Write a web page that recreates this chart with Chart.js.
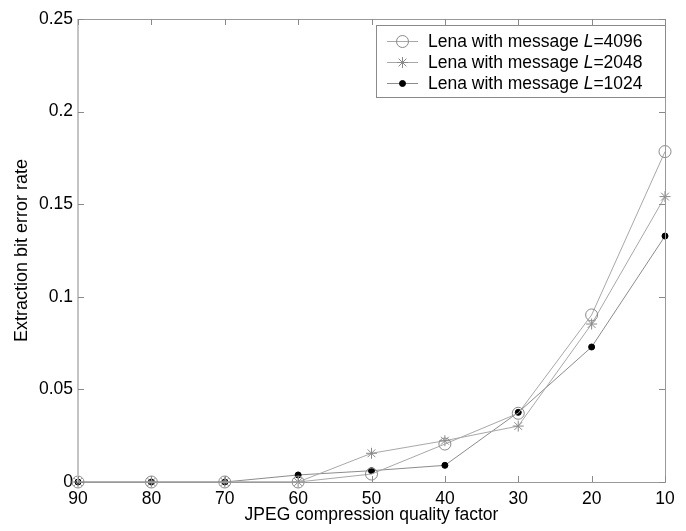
<!DOCTYPE html>
<html>
<head>
<meta charset="utf-8">
<script src="https://cdn.jsdelivr.net/npm/chart.js@4.4.1/dist/chart.umd.min.js"></script>
<style>
  html, body { margin: 0; padding: 0; background: #fff; }
  #wrap { width: 686px; height: 531px; }
</style>
</head>
<body>
<div id="wrap"><canvas id="c" width="686" height="531"></canvas></div>
<script>
// ---- data ----
const qualityFactors = [90, 80, 70, 60, 50, 40, 30, 20, 10];
const ber4096 = [0, 0, 0, 0, 0.0043, 0.0205, 0.0371, 0.0902, 0.1784];
const ber2048 = [0, 0, 0, 0, 0.0155, 0.0223, 0.0302, 0.0853, 0.1541];
const ber1024 = [0, 0, 0, 0.0038, 0.0061, 0.0090, 0.0376, 0.0729, 0.1328];
const messageLengths = [4096, 2048, 1024];
const xTicks = [90, 80, 70, 60, 50, 40, 30, 20, 10];
const yTicks = [0, 0.05, 0.1, 0.15, 0.2, 0.25];

const FONT = "'Liberation Sans', Arial, sans-serif";
const FS = 17.5;

function pts(ys) { return qualityFactors.map((q, i) => ({ x: q, y: ys[i] })); }

const datasets = [
  { data: pts(ber4096), msgLen: messageLengths[0], borderColor: '#a8a8a8', borderWidth: 1,
    pointStyle: 'circle', pointRadius: 6, pointBorderColor: '#8a8a8a', pointBackgroundColor: 'rgba(0,0,0,0)', pointBorderWidth: 1 },
  { data: pts(ber2048), msgLen: messageLengths[1], borderColor: '#a8a8a8', borderWidth: 1,
    pointStyle: 'star', pointRadius: 5.5, pointBorderColor: '#8a8a8a', pointBackgroundColor: 'rgba(0,0,0,0)', pointBorderWidth: 1 },
  { data: pts(ber1024), msgLen: messageLengths[2], borderColor: '#8c8c8c', borderWidth: 1,
    pointStyle: 'circle', pointRadius: 3, pointBorderColor: '#000', pointBackgroundColor: '#000', pointBorderWidth: 1 }
];

const frame = {
  id: 'frame',
  beforeDraw(chart) {
    const { ctx } = chart;
    ctx.save();
    ctx.fillStyle = '#fff';
    ctx.fillRect(0, 0, chart.width, chart.height);
    ctx.restore();
  },
  afterDatasetsDraw(chart) {
    const { ctx, chartArea: a, scales } = chart;
    ctx.save();
    ctx.strokeStyle = '#9a9a9a';
    ctx.lineWidth = 1;
    ctx.strokeRect(a.left + 0.5, a.top + 0.5, a.right - a.left, a.bottom - a.top);
    ctx.strokeStyle = '#c4c4c4';
    ctx.lineWidth = 2;
    ctx.beginPath(); ctx.moveTo(a.left, a.top); ctx.lineTo(a.left, a.bottom); ctx.stroke();
    // inward ticks
    ctx.strokeStyle = '#8a8a8a';
    ctx.lineWidth = 1;
    const L = 6;
    scales.x.ticks.forEach(t => {
      const x = Math.round(scales.x.getPixelForValue(t.value)) + 0.5;
      ctx.beginPath();
      ctx.moveTo(x, a.bottom); ctx.lineTo(x, a.bottom - L);
      ctx.moveTo(x, a.top); ctx.lineTo(x, a.top + L);
      ctx.stroke();
    });
    scales.y.ticks.forEach(t => {
      const y = Math.round(scales.y.getPixelForValue(t.value)) + 0.5;
      ctx.beginPath();
      ctx.moveTo(a.left, y); ctx.lineTo(a.left + L, y);
      ctx.moveTo(a.right, y); ctx.lineTo(a.right - L, y);
      ctx.stroke();
    });
    ctx.restore();
  },
  afterDraw(chart) {
    const { ctx } = chart;
    const box = { x: 376, y: 25, w: 289, h: 72 };
    ctx.save();
    ctx.fillStyle = '#fff';
    ctx.fillRect(box.x, box.y, box.w, box.h);
    ctx.strokeStyle = '#8a8a8a';
    ctx.lineWidth = 1;
    ctx.strokeRect(box.x + 0.5, box.y + 0.5, box.w, box.h);
    const rows = [41, 62, 83];
    chart.data.datasets.forEach((ds, i) => {
      const y = rows[i];
      ctx.strokeStyle = ds.borderColor;
      ctx.lineWidth = 1;
      ctx.beginPath(); ctx.moveTo(387, y + 0.5); ctx.lineTo(418, y + 0.5); ctx.stroke();
      ctx.fillStyle = ds.pointBackgroundColor;
      ctx.strokeStyle = ds.pointBorderColor;
      ctx.beginPath();
      if (ds.pointStyle === 'circle') {
        ctx.arc(402.5, y + 0.5, ds.pointRadius, 0, Math.PI * 2);
        ctx.fill(); ctx.stroke();
      } else {
        const r = ds.pointRadius;
        for (let k = 0; k < 4; k++) {
          const ang = k * Math.PI / 4;
          ctx.moveTo(402.5 - r * Math.cos(ang), y + 0.5 - r * Math.sin(ang));
          ctx.lineTo(402.5 + r * Math.cos(ang), y + 0.5 + r * Math.sin(ang));
        }
        ctx.stroke();
      }
      ctx.fillStyle = '#000';
      ctx.textBaseline = 'middle';
      ctx.textAlign = 'left';
      let x = 428;
      const p1 = 'Lena with message ';
      ctx.font = FS + 'px ' + FONT;
      ctx.fillText(p1, x, y + 1); x += ctx.measureText(p1).width;
      ctx.font = 'italic ' + FS + 'px ' + FONT;
      ctx.fillText('L', x, y + 1); x += ctx.measureText('L').width;
      ctx.font = FS + 'px ' + FONT;
      ctx.fillText('=' + ds.msgLen, x, y + 1);
    });
    ctx.restore();
  }
};

new Chart(document.getElementById('c'), {
  type: 'line',
  data: { datasets },
  options: {
    responsive: false,
    animation: false,
    devicePixelRatio: 1,
    layout: { padding: { top: 19, right: 21, left: 0, bottom: 0 } },
    elements: { line: { tension: 0 } },
    datasets: { line: { clip: false } },
    plugins: { legend: { display: false }, tooltip: { enabled: false } },
    scales: {
      x: {
        type: 'linear', reverse: true, min: 10, max: 90,
        afterBuildTicks: s => { s.ticks = xTicks.map(v => ({ value: v })); },
        afterFit: s => { s.height = 49; },
        grid: { display: false, drawTicks: false },
        border: { display: false },
        ticks: { padding: 7, color: '#000', font: { family: FONT, size: FS }, maxRotation: 0, autoSkip: false,
                 callback: v => String(v) },
        title: { display: true, text: 'JPEG compression quality factor', color: '#000',
                 font: { family: FONT, size: FS }, padding: { top: 0, bottom: 5.5 } }
      },
      y: {
        type: 'linear', min: 0, max: 0.25,
        afterBuildTicks: s => { s.ticks = yTicks.map(v => ({ value: v })); },
        afterFit: s => { s.width = 78; },
        grid: { display: false, drawTicks: false },
        border: { display: false },
        ticks: { padding: 5, color: '#000', font: { family: FONT, size: FS }, autoSkip: false,
                 callback: v => String(+Number(v).toFixed(2)) },
        title: { display: true, text: 'Extraction bit error rate', color: '#000',
                 font: { family: FONT, size: 18 }, padding: { top: 11, bottom: 0 } }
      }
    }
  },
  plugins: [frame]
});
</script>
</body>
</html>
